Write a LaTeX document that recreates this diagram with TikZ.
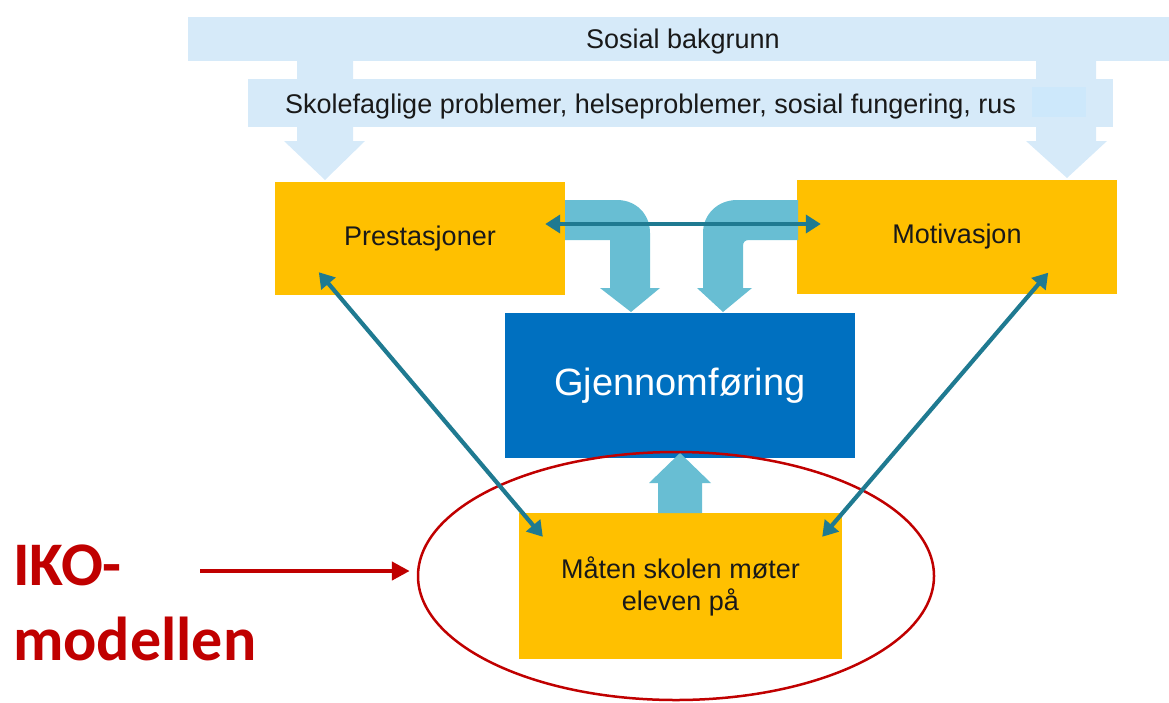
\documentclass[tikz,border=0pt]{standalone}
\usepackage{fontspec}
\setmainfont{Liberation Sans}
\newfontfamily\calibfont{Carlito}
\usetikzlibrary{arrows.meta,calc,shapes.geometric}
\definecolor{bandblue}{HTML}{D6EAF9}
\definecolor{bandpatch}{HTML}{CDE8FB}
\definecolor{boxorange}{HTML}{FFC000}
\definecolor{boxblue}{HTML}{0070C0}
\definecolor{lightteal}{RGB}{104,190,211}
\definecolor{darkteal}{RGB}{31,122,145}
\definecolor{ikored}{HTML}{C00000}
\begin{document}
\begin{tikzpicture}[x=1pt,y=-1pt,
  txt/.style={inner sep=0pt,font=\fontsize{27}{32}\selectfont,text=black!90},
  obox/.style={fill=boxorange,inner sep=0pt,font=\fontsize{27}{32}\selectfont,text=black!90,align=center},
  bbox/.style={fill=boxblue,inner sep=0pt,font=\fontsize{38}{44}\selectfont,text=white},
  blockarrow/.style={fill=lightteal},
  link/.style={draw=darkteal,line width=4.2pt,{Triangle[length=15pt,width=18pt]}-{Triangle[length=15pt,width=18pt]}},
  ikolabel/.style={inner sep=0pt,font=\calibfont\bfseries\fontsize{62}{75}\selectfont,text=ikored},
  redarrow/.style={draw=ikored,line width=4.5pt,-{Triangle[length=18pt,width=18pt]}}]
\useasboundingbox (0,0) rectangle (1169,702);
% background bands
\fill[bandblue] (188,17) rectangle (1169,61);
\fill[bandblue] (248,79) rectangle (1113,127);
\fill[bandblue] (297,61) -- (353,61) -- (353,141) -- (365,141) -- (325,180) -- (284,141) -- (297,141) -- cycle;
\fill[bandblue] (1036,61) -- (1096,61) -- (1096,141) -- (1107,141) -- (1067,178) -- (1026,141) -- (1036,141) -- cycle;
\fill[bandpatch] (1032,87) rectangle (1086,117);
\node[txt,anchor=base] (sosial) at (683,48) {Sosial bakgrunn};
\node[txt,anchor=base west] (skole) at (285,113) {Skolefaglige problemer, helseproblemer, sosial fungering, rus};
% boxes
\node[obox,minimum width=290pt,minimum height=113pt] (prest) at (420,238.5) {Prestasjoner};
\node[obox,minimum width=320pt,minimum height=114pt] (motiv) at (957,236.5) {Motivasjon};
\node[bbox,minimum width=350pt,minimum height=145pt] (gjen) at (680,385.5) {Gjennomføring};
\node[obox,minimum width=323pt,minimum height=146pt] (maaten) at (680.5,586) {Måten skolen møter\\eleven på};
% bent block arrows
\fill[blockarrow] (565,200) -- (617,200) .. controls (636,200) and (650,214) .. (650,233) -- (650,288) -- (660,288) -- (631,312) -- (600,288) -- (610,288) -- (610,240) -- (565,240) -- cycle;
\fill[blockarrow] (798,200) -- (737,200) .. controls (718,200) and (703,214) .. (703,233) -- (703,288) -- (697,288) -- (723,312) -- (752,288) -- (743,288) -- (743,246) .. controls (743,242) and (745,240) .. (749,240) -- (798,240) -- cycle;
% up block arrow
\fill[blockarrow] (658,513) -- (658,483) -- (649,483) -- (680,453) -- (711,483) -- (702,483) -- (702,513) -- cycle;
% ellipse
\node[draw=ikored,line width=2.5pt,ellipse,minimum width=516pt,minimum height=248pt,inner sep=0pt] (oval) at (676,576) {};
% thin connectors
\draw[link] ($(prest.east)+(-20,-14.5)$) -- ($(motiv.west)+(24,-12.5)$);
\draw[link] ($(prest.south west)+(44,-23)$) -- ($(maaten.north west)+(24,24)$);
\draw[link] ($(motiv.south east)+(-69,-21)$) -- ($(maaten.north east)+(-20,24)$);
% IKO label
\node[ikolabel,anchor=base west] (ikoA) at (13,585) {IKO-};
\node[ikolabel,anchor=base west] (ikoB) at (13,660) {modellen};
\coordinate (redstart) at (200,571);
\draw[redarrow] (redstart) -- ($(oval.west)+(-7,-5)$);
\end{tikzpicture}
\end{document}
